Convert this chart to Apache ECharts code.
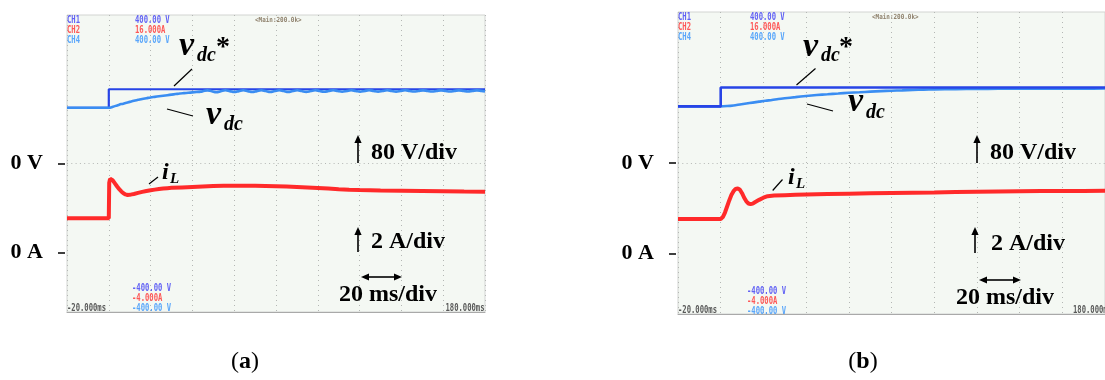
<!DOCTYPE html>
<html>
<head>
<meta charset="utf-8">
<script src="https://cdn.jsdelivr.net/npm/echarts@6.0.0/dist/echarts.min.js"></script>
<style>
  html, body { margin: 0; padding: 0; background: #ffffff; }
  #chart { width: 1105px; height: 380px; }
</style>
</head>
<body>
<div id="chart"></div>
<script>
// ---- Time axis (ms) and scope scales ----
const timeTicks = [-20, 0, 20, 40, 60, 80, 100, 120, 140, 160, 180];
const voltRange = [-400, 400];   // 80 V/div
const currRange = [-4, 16];      // 2 A/div

// ---- Voltage reference v_dc* (V), same step in both tests ----
const refT = [-20, 0, 0, 180];
const vdcRef = [150, 150, 200, 200];

// ---- (a) DC-link voltage v_dc (V) ----
const timeA_vdc = [-20, 0, 2, 4, 6, 8, 10, 12, 14, 16, 18, 20, 22, 24, 26, 28, 30, 32, 34, 36, 38, 40, 42, 44,
  45, 47.15, 49.3, 51.45, 53.6, 55.75, 57.9, 60.05, 62.2, 64.35, 66.5, 68.65, 70.8, 72.95, 75.1, 77.25,
  79.4, 81.55, 83.7, 85.85, 88, 90.15, 92.3, 94.45, 96.6, 98.75, 100.9, 103.05, 105.2, 107.35, 109.5,
  111.65, 113.8, 115.95, 118.1, 120.25, 122.4, 124.55, 126.7, 128.85, 131, 133.15, 135.3, 137.45, 139.6,
  141.75, 143.9, 146.05, 148.2, 150.35, 152.5, 154.65, 156.8, 158.95, 161.1, 163.25, 165.4, 167.55,
  169.7, 171.85, 174, 176.15, 178.3, 180];
const vdcA = [150, 150, 153, 156.5, 160, 163, 166, 169, 171.5, 174, 176, 178, 179.5, 181, 182.5, 184, 185.5, 187, 188.5, 189.5, 190.5, 191.5, 192.5, 193.5,
  194.5, 197, 194.5, 192, 194.8, 197.4, 195, 192.5, 195, 197.5, 195, 192.6, 195, 197.5, 195.1, 192.7,
  195.1, 197.5, 195.1, 192.8, 195.2, 197.5, 195.2, 193, 195.2, 197.4, 195.3, 193.1, 195.3, 197.4, 195.3,
  193.3, 195.3, 197.3, 195.4, 193.4, 195.4, 197.3, 195.4, 193.5, 195.4, 197.2, 195.5, 193.7, 195.5,
  197.2, 195.5, 193.8, 195.5, 197.1, 195.5, 193.9, 195.5, 197.1, 195.6, 194, 195.6, 197,
  195.6, 194.1, 195.6, 197, 195.6, 194.2];

// ---- (a) Inductor current i_L (A) ----
const timeA_iL = [-20, -10, 0, 0.2, 0.6, 1.0, 2, 3, 4, 5, 6, 7, 8, 9, 10, 11, 12, 14, 16, 18, 20, 22, 24, 26, 28, 30,
  35, 40, 45, 50, 55, 60, 65, 70, 75, 80, 85, 90, 95, 100, 105, 110, 115, 120, 130, 140, 150, 160, 170, 180];
const iLA = [2.31, 2.31, 2.31, 4.7, 4.97, 5.0, 4.85, 4.65, 4.45, 4.27, 4.12, 4.0, 3.92, 3.88, 3.89, 3.92, 3.95, 4.02, 4.09, 4.15, 4.2, 4.24, 4.28, 4.31, 4.34, 4.36,
  4.39, 4.42, 4.45, 4.48, 4.5, 4.5, 4.51, 4.5, 4.49, 4.47, 4.45, 4.42, 4.39, 4.35, 4.31, 4.27, 4.24, 4.22, 4.19, 4.17, 4.15, 4.13, 4.11, 4.1];

// ---- (b) DC-link voltage v_dc (V) ----
const timeB_vdc = [-20, 0, 3, 6, 9, 12, 15, 18, 21, 24, 27, 30, 35, 40, 45, 50, 55, 60, 65, 70, 75, 80, 85, 90, 95, 100,
  110, 120, 130, 140, 150, 160, 170, 180];
const vdcB = [150, 150, 150.8, 152.5, 155, 157.5, 160, 162.5, 165, 167, 169.5, 171.5, 174.5, 177.5, 180, 182, 184, 186, 187.5, 189, 190.5, 191.5, 192.5, 193.5, 194.3, 195,
  195.8, 196.3, 196.6, 196.8, 197, 197, 197.1, 197.2];

// ---- (b) Inductor current i_L (A) ----
const timeB_iL = [-20, -10, 0, 1, 2, 3, 4, 5, 6, 7, 8, 9, 10, 11, 12, 13, 14, 15, 16, 18, 20, 22, 25, 30, 35, 40,
  50, 60, 70, 80, 90, 100, 110, 120, 130, 140, 150, 160, 170, 180];
const iLB = [2.29, 2.29, 2.29, 2.42, 2.72, 3.12, 3.52, 3.88, 4.13, 4.28, 4.32, 4.23, 4.0, 3.7, 3.46, 3.32, 3.28, 3.31, 3.4, 3.56, 3.7, 3.8, 3.84, 3.87, 3.89, 3.91,
  3.95, 3.97, 3.99, 4.01, 4.03, 4.05, 4.08, 4.1, 4.12, 4.13, 4.14, 4.15, 4.15, 4.16];

// ---- Scope readout texts ----
const chNames = ['CH1', 'CH2', 'CH4'];
const chTop = ['400.00 V', '16.000A', '400.00 V'];
const chBottom = ['-400.00 V', '-4.000A', '-400.00 V'];
const chColors = ['#4646f5', '#ff3b3b', '#3d97fb'];
const timeStart = '-20.000ms';
const timeEnd = '180.000ms';
const mainLabel = '<Main:200.0k>';

const pairs = (ts, vs) => ts.map((t, i) => [t, vs[i]]);

const COL_REF = '#2744e6';
const COL_VDC = '#3a8df2';
const COL_IL = '#ff2a2a';
const GRID_BG = '#f4f8f3';
const DOT = '#b4b7b4';

const grids = [
  { left: 67, top: 15, width: 418, height: 297 },
  { left: 678, top: 12, width: 429, height: 302 }
];

function xAxisFor(gi) {
  return {
    gridIndex: gi, type: 'value', min: timeTicks[0], max: timeTicks[timeTicks.length - 1], interval: 20,
    axisLabel: { show: false }, axisTick: { show: false },
    axisLine: { show: true, onZero: false, lineStyle: { color: '#a9a9a9', width: 1 } },
    splitLine: { show: true, lineStyle: { color: DOT, type: [1, 4], width: 1 } }
  };
}
function yAxisFor(gi, range, step, label, withSplit) {
  return {
    gridIndex: gi, type: 'value', min: range[0], max: range[1], interval: step,
    position: 'left', offset: 2,
    axisLine: { show: false, onZero: false },
    axisTick: { show: true, customValues: [0], length: 7, lineStyle: { color: '#000', width: 1.5 } },
    axisLabel: {
      show: true, customValues: [0], formatter: () => label, margin: 22,
      fontFamily: 'Liberation Serif', fontWeight: 'bold', fontSize: 22, color: '#000'
    },
    splitLine: { show: withSplit, lineStyle: { color: DOT, type: [1, 3.3], width: 1 } }
  };
}

// ---- Annotation helpers ----
const SERIF = '"Liberation Serif", "Times New Roman", serif';
function txt(str, x, baseline, size, weight, style, color) {
  return {
    type: 'text', z: 100,
    style: {
      text: str, x: x, y: baseline - 0.34 * size,
      font: (style || '') + ' ' + (weight || 'bold') + ' ' + size + 'px ' + SERIF,
      fill: color || '#000', textAlign: 'left', verticalAlign: 'middle'
    }
  };
}
function seg(x1, y1, x2, y2, w) {
  return { type: 'line', z: 100, shape: { x1, y1, x2, y2 }, style: { stroke: '#000', lineWidth: w || 1.2 } };
}
function upArrow(x, yBottom, yTip) {
  return [
    seg(x, yBottom, x, yTip + 7, 1.6),
    { type: 'polygon', z: 100, shape: { points: [[x - 3.6, yTip + 8], [x + 3.6, yTip + 8], [x, yTip]] }, style: { fill: '#000' } }
  ];
}
function dblArrow(x1, x2, y) {
  return [
    seg(x1 + 6, y, x2 - 6, y, 1.6),
    { type: 'polygon', z: 100, shape: { points: [[x1, y], [x1 + 8, y - 3.6], [x1 + 8, y + 3.6]] }, style: { fill: '#000' } },
    { type: 'polygon', z: 100, shape: { points: [[x2, y], [x2 - 8, y - 3.6], [x2 - 8, y + 3.6]] }, style: { fill: '#000' } }
  ];
}
function mono(str, x, yMid, color, align, size, sx) {
  return {
    type: 'text', z: 100, x: x, y: yMid, scaleX: sx || 0.72,
    style: {
      text: str, x: 0, y: 0, font: 'bold ' + (size || 10) + 'px "DejaVu Sans Mono", monospace',
      fill: color, textAlign: align || 'left', verticalAlign: 'middle', opacity: 0.85
    }
  };
}
function scopeTexts(left, right, valX, topY, botY, mainX, bottomRowY) {
  const out = [];
  for (let i = 0; i < 3; i++) {
    out.push(mono(chNames[i], left, topY + i * 10, chColors[i]));
    out.push(mono(chTop[i], valX, topY + i * 10, chColors[i]));
    out.push(mono(chBottom[i], valX - 3, botY + i * 10, chColors[i]));
  }
  out.push(mono(mainLabel, mainX, topY, '#7d6c55', 'left', 7, 0.85));
  out.push(mono(timeStart, left, bottomRowY, '#3c3c3c'));
  out.push(mono(timeEnd, right, bottomRowY, '#3c3c3c', 'right'));
  return out;
}
function panelLabel(letter, cx, cy) {
  return {
    type: 'text', z: 100,
    style: {
      text: '{p|(}{b|' + letter + '}{p|)}', x: cx, y: cy, textAlign: 'center', verticalAlign: 'middle',
      rich: {
        p: { fontFamily: 'Liberation Serif', fontSize: 24, fill: '#000' },
        b: { fontFamily: 'Liberation Serif', fontWeight: 'bold', fontSize: 24, fill: '#000' }
      }
    }
  };
}

const graphics = [].concat(
  // panel (a)
  txt('v', 179, 58, 34, 'bold', 'italic'),
  txt('dc', 197, 63, 20, 'bold', 'italic'),
  txt('*', 216, 57, 28, 'bold'),
  seg(192, 69, 174, 86),
  txt('v', 206, 127, 34, 'bold', 'italic'),
  txt('dc', 224, 132, 20, 'bold', 'italic'),
  seg(167, 109, 193, 116),
  txt('i', 162, 181, 24, 'bold', 'italic'),
  txt('L', 170, 184, 15, 'bold', 'italic'),
  seg(149, 184, 158, 177),
  upArrow(358, 163, 135),
  txt('80 V/div', 371, 161, 24),
  upArrow(358, 252, 227),
  txt('2 A/div', 371, 250, 24),
  dblArrow(361, 402, 277),
  txt('20 ms/div', 339, 303, 24),
  scopeTexts(67, 484.5, 135, 20, 288.5, 255, 308),
  panelLabel('a', 245, 362),
  // panel (b)
  txt('v', 803, 59, 34, 'bold', 'italic'),
  txt('dc', 821, 63, 20, 'bold', 'italic'),
  txt('*', 839, 57, 28, 'bold'),
  seg(815.5, 68.5, 796.5, 85),
  txt('v', 848, 114, 34, 'bold', 'italic'),
  txt('dc', 866, 120, 20, 'bold', 'italic'),
  seg(807, 104, 833, 111),
  txt('i', 788, 186, 24, 'bold', 'italic'),
  txt('L', 796, 189, 15, 'bold', 'italic'),
  seg(772.7, 190.5, 782.5, 179.5),
  upArrow(977, 163, 135),
  txt('80 V/div', 990, 161, 24),
  upArrow(975, 253, 227),
  txt('2 A/div', 991, 252, 24),
  dblArrow(979, 1021, 280),
  txt('20 ms/div', 956, 306, 24),
  scopeTexts(678, 1112, 750, 17, 291.5, 872, 310),
  panelLabel('b', 863, 362)
);

const chart = echarts.init(document.getElementById('chart'), null, { renderer: 'canvas' });
chart.setOption({
  animation: false,
  backgroundColor: '#ffffff',
  grid: grids.map(g => Object.assign({ show: true, backgroundColor: GRID_BG, borderColor: '#d2d4d2', borderWidth: 1 }, g)),
  xAxis: [xAxisFor(0), xAxisFor(1)],
  yAxis: [
    yAxisFor(0, voltRange, 80, '0 V', true),
    yAxisFor(0, currRange, 2, '0 A', false),
    yAxisFor(1, voltRange, 80, '0 V', true),
    yAxisFor(1, currRange, 2, '0 A', false)
  ],
  series: [
    { name: 'vdc* (a)', type: 'line', xAxisIndex: 0, yAxisIndex: 0, data: pairs(refT, vdcRef), showSymbol: false, z: 2,
      lineStyle: { color: COL_REF, width: 2.2 } },
    { name: 'vdc (a)', type: 'line', xAxisIndex: 0, yAxisIndex: 0, data: pairs(timeA_vdc, vdcA), showSymbol: false, z: 3,
      smooth: 0.4, lineStyle: { color: COL_VDC, width: 2.6 } },
    { name: 'iL (a)', type: 'line', xAxisIndex: 0, yAxisIndex: 1, data: pairs(timeA_iL, iLA), showSymbol: false, z: 4,
      lineStyle: { color: COL_IL, width: 4 } },
    { name: 'vdc (b)', type: 'line', xAxisIndex: 1, yAxisIndex: 2, data: pairs(timeB_vdc, vdcB), showSymbol: false, z: 2,
      smooth: 0.3, lineStyle: { color: COL_VDC, width: 2.6 } },
    { name: 'vdc* (b)', type: 'line', xAxisIndex: 1, yAxisIndex: 2, data: pairs(refT, vdcRef), showSymbol: false, z: 3,
      lineStyle: { color: COL_REF, width: 2.6 } },
    { name: 'iL (b)', type: 'line', xAxisIndex: 1, yAxisIndex: 3, data: pairs(timeB_iL, iLB), showSymbol: false, z: 4,
      lineStyle: { color: COL_IL, width: 4 } }
  ],
  graphic: graphics
});
</script>
</body>
</html>
